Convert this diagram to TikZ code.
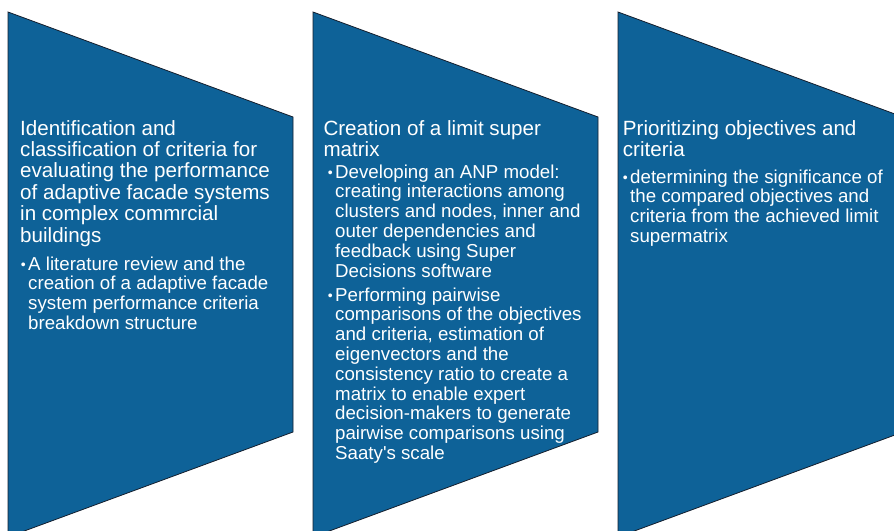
\documentclass[tikz,border=0pt]{standalone}
\usepackage{fontspec}
\setmainfont{Liberation Sans}
\usepackage{tikz}
\usetikzlibrary{positioning}
\definecolor{panelblue}{RGB}{14,98,152}
\definecolor{paneledge}{RGB}{20,30,45}
\tikzset{
  panel/.style={fill=panelblue, draw=paneledge, line width=0.8pt, line join=miter},
  head/.style={anchor=north west, inner sep=0pt, align=left, text=white,
               font=\fontsize{20.6}{21.4}\selectfont},
  item/.style={anchor=north west, inner sep=0pt, align=left, text=white,
               font=\fontsize{18.7}{19.8}\selectfont},
}
\newcommand{\itm}{\llap{\raisebox{0.6pt}{\fontsize{14}{14}\selectfont\textbullet}\hspace{2.5pt}}}

\begin{document}
\begin{tikzpicture}[x=1pt, y=-1pt]
\useasboundingbox (0,0) rectangle (894,530);
\clip (0,0) rectangle (894,530);
\fill[white] (0,0) rectangle (894,530);

% panels
\foreach \dx in {0,305,610}
  \draw[panel] (8+\dx,12) -- (293+\dx,117) -- (293+\dx,432) -- (8+\dx,537) -- cycle;

% step 1
\node (head1) [head] at (20,120) {Identification and\\classification of criteria for\\evaluating the performance\\of adaptive facade systems\\in complex commrcial\\buildings};
\node (item1) [item] at (28,256.3) {\itm A literature review and the\\creation of a adaptive facade\\system performance criteria\\breakdown structure};

% step 2
\node (head2) [head] at (323.3,120) {Creation of a limit super\\matrix};
\node (item2a) [item] at (335,164.3) {\itm Developing an ANP model:\\creating interactions among\\clusters and nodes, inner and\\outer dependencies and\\feedback using Super\\Decisions software};
\node (item2b) [item] at (335,287.3) {\itm Performing pairwise\\comparisons of the objectives\\and criteria, estimation of\\eigenvectors and the\\consistency ratio to create a\\matrix to enable expert\\decision-makers to generate\\pairwise comparisons using\\Saaty\textquotesingle s scale};

% step 3
\node (head3) [head] at (622.7,120) {Prioritizing objectives and\\criteria};
\node (item3) [item] at (630,169.3) {\itm determining the significance of\\the compared objectives and\\criteria from the achieved limit\\supermatrix};
\end{tikzpicture}
\end{document}
